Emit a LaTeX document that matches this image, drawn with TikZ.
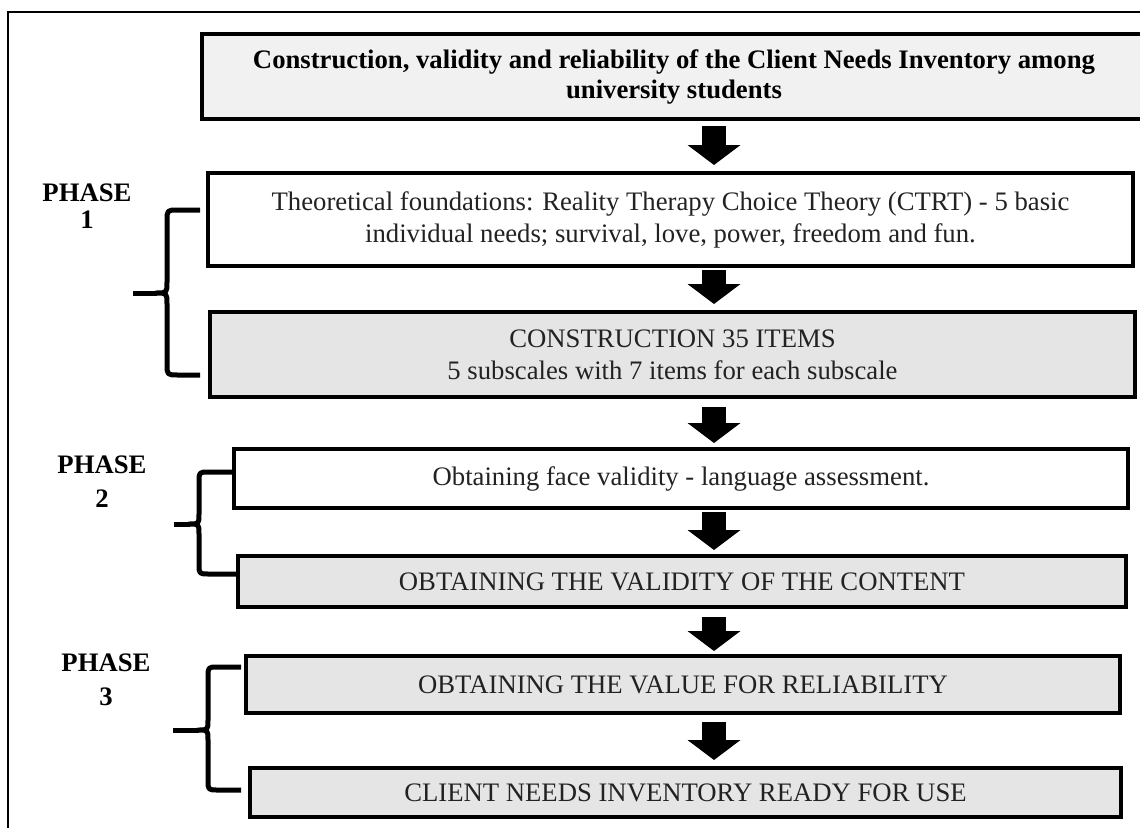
\documentclass[tikz,border=0pt]{standalone}
\usepackage{fontspec}
\setmainfont{Liberation Serif}
\usetikzlibrary{arrows.meta,calc}
\definecolor{titlefill}{HTML}{F1F1F1}
\definecolor{grayfill}{HTML}{E5E5E5}
\definecolor{bodytext}{HTML}{222222}
\begin{document}
\begin{tikzpicture}[x=1pt,y=-1pt,
  box/.style={draw=black, line width=3.8pt, rectangle, inner sep=0pt, outer sep=0pt,
    align=center, text=bodytext, font=\fontsize{26.7}{32}\selectfont},
  titlebox/.style={box, fill=titlefill, text=black, font=\fontsize{26.7}{30}\selectfont\bfseries},
  whitebox/.style={box, fill=white},
  graybox/.style={box, fill=grayfill},
  blockarrow/.style={line width=24pt, draw=black,
    -{Triangle[width=53pt,length=20pt,line width=0pt]}},
  bracestroke/.style={line width=5pt, line join=round, line cap=butt, draw=black},
  phaselabel/.style={align=center, inner sep=0pt, font=\fontsize{26.7}{28}\selectfont\bfseries},
  frameline/.style={line width=2pt, draw=black}
]
\useasboundingbox (0,0) rectangle (1140,827);
\fill[white] (0,0) rectangle (1140,827);

% outer frame (top and left edges visible)
\draw[frameline] (8,835) -- (8,12) -- (1150,12);

% boxes
\node[titlebox, minimum width=944.5pt, minimum height=85.5pt] (t) at (674,76.5)
  {Construction, validity and reliability of the Client Needs Inventory among\\university students};
\node[whitebox, minimum width=925.5pt, minimum height=93.5pt] (b1) at (670.5,219.5)
  {Theoretical foundations: Reality Therapy Choice Theory (CTRT) - 5 basic\\individual needs; survival, love, power, freedom and fun.};
\node[graybox, minimum width=925.5pt, minimum height=85.5pt] (b2) at (672.5,354.5)
  {CONSTRUCTION 35 ITEMS\\5 subscales with 7 items for each subscale};
\node[whitebox, minimum width=894.5pt, minimum height=59.5pt] (b3) at (681,478.5)
  {Obtaining face validity - language assessment.};
\node[graybox, minimum width=888.5pt, minimum height=51.5pt] (b4) at (682,581.5)
  {OBTAINING THE VALIDITY OF THE CONTENT};
\node[graybox, minimum width=874.5pt, minimum height=57.5pt] (b5) at (683,684.5)
  {OBTAINING THE VALUE FOR RELIABILITY};
\node[graybox, minimum width=871.5pt, minimum height=49.5pt] (b6) at (685.5,792.5)
  {CLIENT NEEDS INVENTORY READY FOR USE};

% block arrows
\coordinate (ax) at (714,0);
\draw[blockarrow, shorten <=6.75pt, shorten >=7.75pt] (t.south -| ax) -- (b1.north -| ax);
\draw[blockarrow, shorten <=3.75pt, shorten >=7.75pt] (b1.south -| ax) -- (b2.north -| ax);
\draw[blockarrow, shorten <=9.75pt, shorten >=5.75pt] (b2.south -| ax) -- (b3.north -| ax);
\draw[blockarrow, shorten <=3.75pt, shorten >=5.75pt] (b3.south -| ax) -- (b4.north -| ax);
\draw[blockarrow, shorten <=9.75pt, shorten >=4.75pt] (b4.south -| ax) -- (b5.north -| ax);
\draw[blockarrow, shorten <=8.75pt, shorten >=7.75pt] (b5.south -| ax) -- (b6.north -| ax);

% phase labels
\node[phaselabel] (p1) at (87,206.5) {PHASE\\[-1pt]1};
\node[phaselabel] (p2) at (102,482) {PHASE\\[6pt]2};
\node[phaselabel] (p3) at (106,680) {PHASE\\[6pt]3};

% braces
\draw[bracestroke] (200,210) -- (178,210) .. controls (167,210) .. (167,221) -- (167,282)
  .. controls (167,293) .. (156,293) .. controls (167,293) .. (167,304) -- (167,364)
  .. controls (167,375) .. (178,375) -- (200,375);
\draw[bracestroke] (157,293) -- (133,293);

\draw[bracestroke] (232,472) -- (209,472) .. controls (199,472) .. (199,482) -- (199,514)
  .. controls (199,524) .. (189,524) .. controls (199,524) .. (199,534) -- (199,564)
  .. controls (199,574) .. (209,574) -- (236,574);
\draw[bracestroke] (190,524) -- (174,524);

\draw[bracestroke] (241,667) -- (218,667) .. controls (208,667) .. (208,677) -- (208,720)
  .. controls (208,730) .. (198,730) .. controls (208,730) .. (208,740) -- (208,780)
  .. controls (208,790) .. (218,790) -- (241,790);
\draw[bracestroke] (199,730) -- (173,730);
\end{tikzpicture}
\end{document}
